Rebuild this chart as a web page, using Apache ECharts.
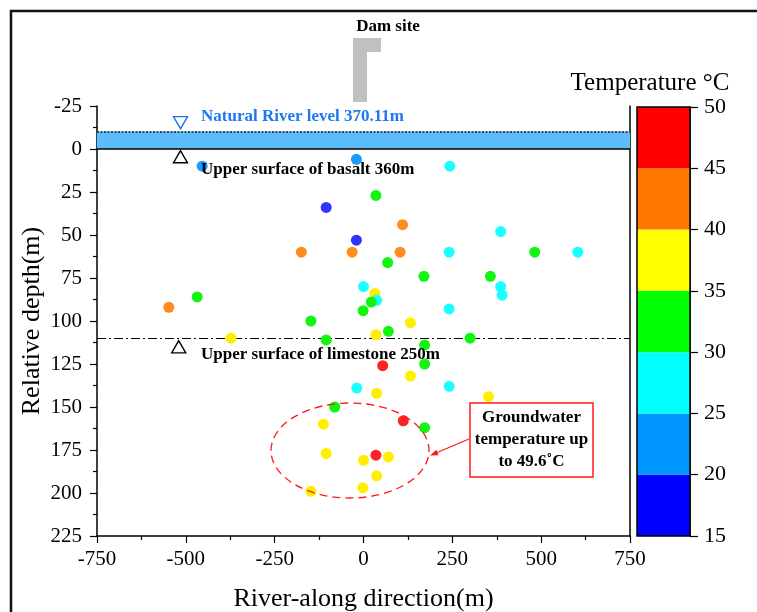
<!DOCTYPE html>
<html>
<head>
<meta charset="utf-8">
<script src="https://cdn.jsdelivr.net/npm/echarts@6/dist/echarts.min.js"></script>
<style>html,body{margin:0;padding:0;background:#fff;}#c{width:757px;height:612px;}</style>
</head>
<body>
<div id="c"></div>
<script>
// ---- data ----
const xPos   = [-454, -20, 243, 35, -105, 110, 386, -20, -175, -32, 103, 241, 482, 603, 68, 170, 357, 0, 386, 32, 390, -468, 37, 22, 241, -1, -548, -148, 132, 70, -373, 35, -105, 300, 172, 54, 172, 132, -19, 37, 241, 352, -81, 112, 172, -113, -105, 35, 0, 70, 37, -148, -2];
const depths = [10, 6, 10, 27, 34, 44, 48, 53, 60, 60, 60, 60, 60, 60, 66, 74, 74, 80, 80, 84, 85, 86, 88, 89, 93, 94, 92, 100, 101, 106, 110, 108, 111, 110, 114, 126, 125, 132, 139, 142, 138, 144, 150, 158, 162, 160, 177, 178, 181, 179, 190, 199, 197];
const temps  = [22, 23, 28, 33, 18, 42, 27, 18, 43, 42, 43, 28, 33, 27, 32, 33, 32, 28, 27, 37, 28, 33, 29, 33, 28, 32, 42, 33, 37, 33, 37, 38, 32, 33, 34, 46, 33, 37, 28, 38, 28, 37, 33, 47, 33, 38, 37, 49.6, 38, 37, 38, 37, 38];

const binLo  = [15, 20, 25, 30, 35, 40, 45];
const binHi  = [20, 25, 30, 35, 40, 45, 50];
const binColors = ['#0000ff', '#0096ff', '#00ffff', '#00ff00', '#ffff00', '#ff7700', '#ff0000'];
const pointColors = ['#3333ff', '#1a9cff', '#1affff', '#11f511', '#ffee00', '#ff8c1f', '#ff2222'];

const xTicks = { min: -750, max: 750, interval: 250 };
const yTicks = { min: -25, max: 225, interval: 25 };
const cbTicks = { min: 15, max: 50, interval: 5 };

const refElevation = 360;         // basalt upper surface = relative depth 0
const riverLevel = 370.11;
const limestoneLevel = 250;
const riverDepth = refElevation - riverLevel;       // -10.11
const limestoneDepth = refElevation - limestoneLevel; // 110

const markerInv = [[-515, -15.3]];
const markerUp  = [[-515, 4.5], [-520, 115]];

// ---- chart ----
const FONT = 'Liberation Serif';
const chart = echarts.init(document.getElementById('c'), null, { renderer: 'canvas' });
const pts = xPos.map((x, i) => [x, depths[i], temps[i]]);
const cbData = binLo.map((lo, i) => [0, lo, binHi[i]]);

const axisCommon = {
  axisLine: { show: true, onZero: false, lineStyle: { color: '#000', width: 1.5 } },
  axisTick: { show: true, inside: false, length: 7, lineStyle: { color: '#000', width: 1.2 } },
  minorTick: { show: true, splitNumber: 2, length: 4, lineStyle: { color: '#000', width: 1.2 } },
  splitLine: { show: false },
  minorSplitLine: { show: false },
  axisLabel: { color: '#000', fontFamily: FONT, fontSize: 21 }
};

const option = {
  animation: false,
  backgroundColor: '#fff',
  grid: [
    { left: 97, top: 106, width: 533, height: 430, containLabel: false, outerBoundsMode: 'none' },
    { left: 637, top: 107, width: 53, height: 429, containLabel: false, outerBoundsMode: 'none' }
  ],
  xAxis: [
    Object.assign({}, axisCommon, {
      type: 'value', gridIndex: 0, min: xTicks.min, max: xTicks.max, interval: xTicks.interval,
      axisLabel: Object.assign({}, axisCommon.axisLabel, { margin: 13 }),
      name: 'River-along direction(m)', nameLocation: 'middle', nameGap: 50, nameMoveOverlap: false,
      nameTextStyle: { color: '#000', fontFamily: FONT, fontSize: 26 }
    }),
    { type: 'category', gridIndex: 1, data: ['t'], show: false, boundaryGap: true }
  ],
  yAxis: [
    Object.assign({}, axisCommon, {
      type: 'value', gridIndex: 0, inverse: true, min: yTicks.min, max: yTicks.max, interval: yTicks.interval,
      axisLabel: Object.assign({}, axisCommon.axisLabel, { margin: 15 }),
      name: 'Relative depth(m)', nameLocation: 'middle', nameGap: 52, nameRotate: 90, nameMoveOverlap: false,
      nameTextStyle: { color: '#000', fontFamily: FONT, fontSize: 26 }
    }),
    {
      type: 'value', gridIndex: 0, position: 'right', inverse: true, min: yTicks.min, max: yTicks.max,
      axisLine: { show: true, onZero: false, lineStyle: { color: '#000', width: 1.5 } },
      axisTick: { show: false }, axisLabel: { show: false }, splitLine: { show: false }
    },
    {
      type: 'value', gridIndex: 1, position: 'right', min: cbTicks.min, max: cbTicks.max, interval: cbTicks.interval,
      axisLine: { show: true, onZero: false, lineStyle: { color: '#000', width: 1.5 } },
      axisTick: { show: true, inside: false, length: 8, lineStyle: { color: '#000', width: 1.2 } },
      axisLabel: { color: '#000', fontFamily: FONT, fontSize: 22, margin: 14 },
      splitLine: { show: false }
    }
  ],
  visualMap: {
    show: false, type: 'piecewise', seriesIndex: 0, dimension: 2,
    pieces: binLo.map((lo, i) => ({ gte: lo, lt: binHi[i] + (i === binLo.length - 1 ? 0.001 : 0), color: pointColors[i] }))
  },
  series: [
    {
      type: 'scatter', xAxisIndex: 0, yAxisIndex: 0, data: pts, symbolSize: 11, z: 5,
      itemStyle: { opacity: 1 },
      markArea: {
        silent: true,
        itemStyle: { color: '#5dbcfb', opacity: 1 },
        data: [[{ xAxis: xTicks.min, yAxis: riverDepth }, { xAxis: xTicks.max, yAxis: 0 }]]
      },
      markLine: {
        silent: true, symbol: 'none', label: { show: false },
        data: [
          { yAxis: riverDepth, lineStyle: { color: '#222', width: 1.5, type: [2, 1.5] } },
          { yAxis: 0, lineStyle: { color: '#000', width: 1.5, type: 'solid' } },
          { yAxis: limestoneDepth, lineStyle: { color: '#000', width: 1.2, type: [9, 3, 2, 3] } }
        ]
      }
    },
    {
      type: 'scatter', xAxisIndex: 0, yAxisIndex: 0, data: markerInv, symbol: 'triangle', symbolRotate: 180,
      symbolSize: [14, 12], itemStyle: { color: '#fff', borderColor: '#1f6ff0', borderWidth: 1.4, opacity: 1 }, z: 6
    },
    {
      type: 'scatter', xAxisIndex: 0, yAxisIndex: 0, data: markerUp, symbol: 'triangle',
      symbolSize: [14, 12], itemStyle: { color: '#fff', borderColor: '#000', borderWidth: 1.4, opacity: 1 }, z: 6
    },
    {
      type: 'custom', xAxisIndex: 1, yAxisIndex: 2, data: cbData,
      renderItem: function (params, api) {
        const lo = api.coord([api.value(0), api.value(1)]);
        const hi = api.coord([api.value(0), api.value(2)]);
        const w = api.size([1, 0])[0];
        return {
          type: 'rect',
          shape: { x: lo[0] - w / 2, y: hi[1], width: w, height: lo[1] - hi[1] },
          style: { fill: binColors[params.dataIndex] }
        };
      }
    }
  ],
  graphic: [
    { type: 'rect', z: 100, shape: { x: 11, y: 11, width: 800, height: 700 }, style: { fill: 'none', stroke: '#111', lineWidth: 2.5 } },
    { type: 'rect', z: 100, shape: { x: 637, y: 107, width: 53, height: 429 }, style: { fill: 'none', stroke: '#000', lineWidth: 1.5 } },
    { type: 'text', z: 100, style: { text: 'Temperature °C', x: 650, y: 83, align: 'center', verticalAlign: 'middle', font: '25px "Liberation Serif"', fill: '#000' } },
    { type: 'text', z: 100, style: { text: 'Dam site', x: 388, y: 27, align: 'center', verticalAlign: 'middle', font: 'bold 17px "Liberation Serif"', fill: '#000' } },
    { type: 'polygon', z: 100, shape: { points: [[353, 38], [381, 38], [381, 52], [367, 52], [367, 102], [353, 102]] }, style: { fill: '#c0c0c0' } },
    { type: 'text', z: 100, style: { text: 'Natural River level 370.11m', x: 201, y: 117, align: 'left', verticalAlign: 'middle', font: 'bold 17px "Liberation Serif"', fill: '#1f78f0' } },
    { type: 'text', z: 100, style: { text: 'Upper surface of basalt 360m', x: 201, y: 170, align: 'left', verticalAlign: 'middle', font: 'bold 17px "Liberation Serif"', fill: '#000' } },
    { type: 'text', z: 100, style: { text: 'Upper surface of limestone 250m', x: 201, y: 355, align: 'left', verticalAlign: 'middle', font: 'bold 17px "Liberation Serif"', fill: '#000' } },
    { type: 'ellipse', z: 100, shape: { cx: 350, cy: 450.5, rx: 79, ry: 47.5 }, style: { fill: 'none', stroke: '#ff1a1a', lineWidth: 1.3, lineDash: [8, 5] } },
    { type: 'rect', z: 100, shape: { x: 470, y: 403, width: 123, height: 74 }, style: { fill: '#fff', stroke: '#ff1a1a', lineWidth: 1.5 } },
    { type: 'text', z: 101, style: { text: 'Groundwater\ntemperature up\nto 49.6˚C', x: 531.5, y: 440, align: 'center', verticalAlign: 'middle', lineHeight: 22, font: 'bold 17px "Liberation Serif"', fill: '#000' } },
    { type: 'line', z: 100, shape: { x1: 469, y1: 439, x2: 436, y2: 453 }, style: { stroke: '#ff1a1a', lineWidth: 1.2 } },
    { type: 'polygon', z: 100, shape: { points: [[430, 455.5], [438.5, 455.3], [436.3, 449.7]] }, style: { fill: '#ff1a1a' } }
  ]
};
chart.setOption(option);
</script>
</body>
</html>
